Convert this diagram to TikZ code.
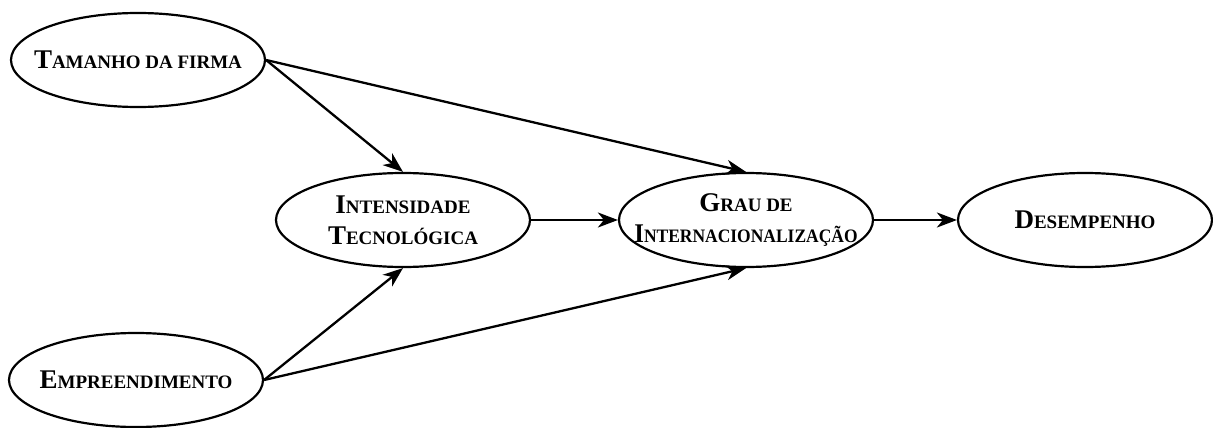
\documentclass[tikz,border=0pt]{standalone}
\usepackage{fontspec}
\setmainfont{Liberation Serif}
\usetikzlibrary{shapes.geometric,arrows.meta}
\newcommand\fsc[2]{#1{\fontsize{19}{31}\selectfont #2}}
\begin{document}
\begin{tikzpicture}[x=1pt,y=-1pt,
  construct/.style={ellipse,draw,line width=2.2pt,minimum width=254pt,minimum height=94pt,inner sep=0pt},
  caption/.style={align=center,inner sep=0pt,font=\fontsize{27}{31}\selectfont\bfseries},
  link/.style={line width=2.3pt,-{Stealth[length=20pt,width=15pt,inset=6pt]}}]
\useasboundingbox (0,0) rectangle (1213,428);
\node[construct] (tam) at (138,60) {};
\node[construct] (emp) at (136,380) {};
\node[construct] (int) at (403,220) {};
\node[construct] (gra) at (746,220) {};
\node[construct] (des) at (1085,220) {};
\node[caption] (tamt) at (tam) {\fsc{T}{AMANHO DA FIRMA}};
\node[caption] (empt) at (emp) {\fsc{E}{MPREENDIMENTO}};
\node[caption] (intt) at (int) {\fsc{I}{NTENSIDADE}\\\fsc{T}{ECNOLÓGICA}};
\node[caption] (grat) at (gra) {\fsc{G}{RAU DE}\\\scalebox{0.92}[1]{\fsc{I}{NTERNACIONALIZAÇÃO}}};
\node[caption] (dest) at (des) {\fsc{D}{ESEMPENHO}};
\draw[link] (tam.east) -- (int.north);
\draw[link] (tam.east) -- (gra.north);
\draw[link] (emp.east) -- (int.south);
\draw[link] (emp.east) -- (gra.south);
\draw[link] (int.east) -- (gra.west);
\draw[link] (gra.east) -- (des.west);
\end{tikzpicture}
\end{document}
